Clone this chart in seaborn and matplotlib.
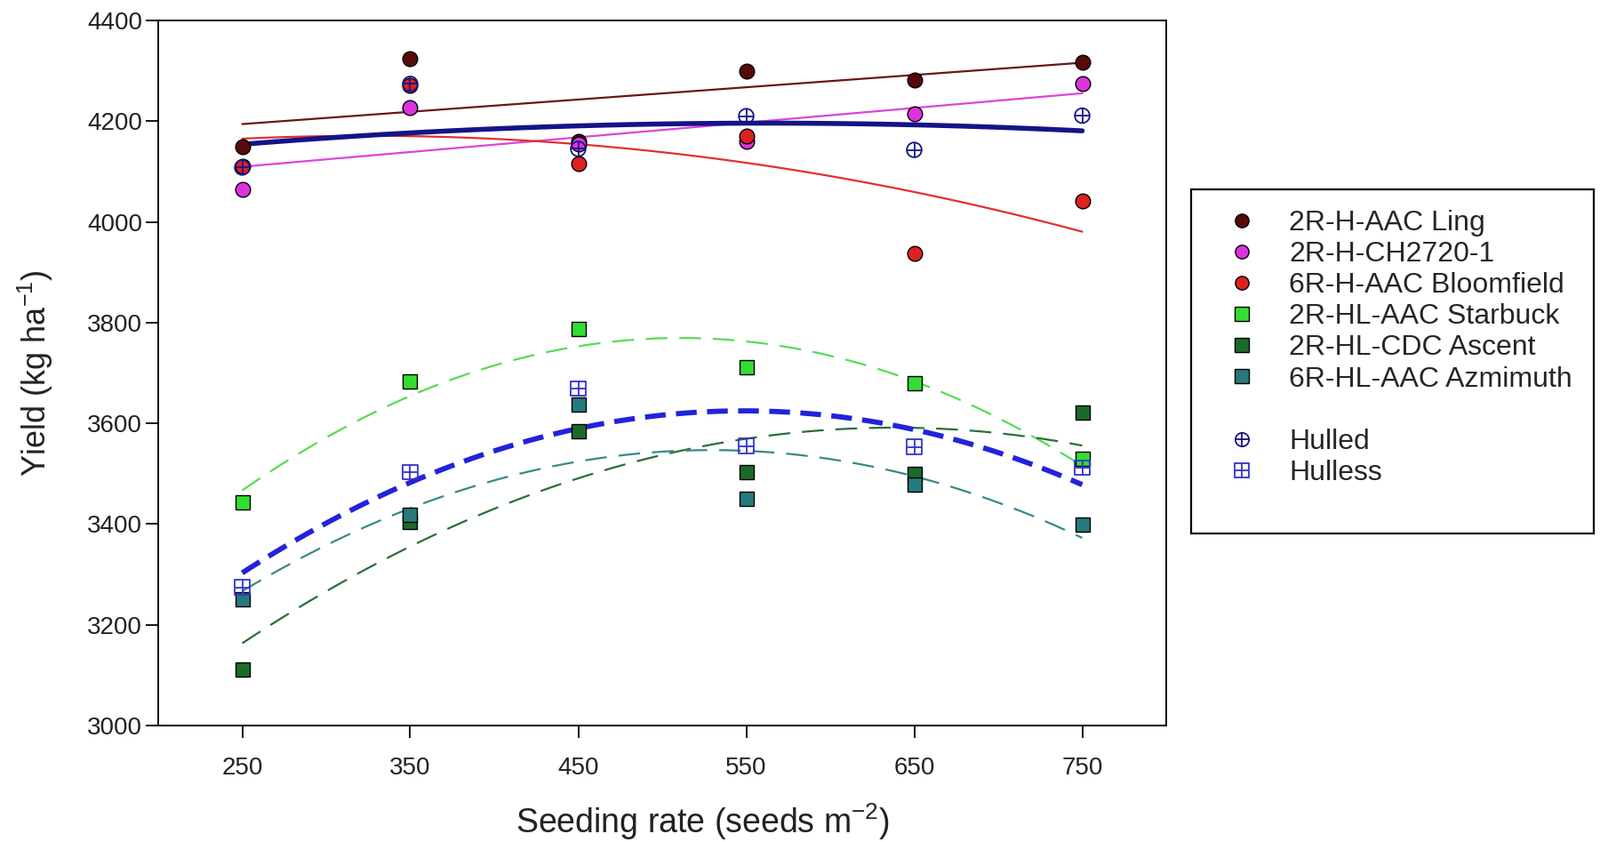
import matplotlib
matplotlib.use("Agg")
import matplotlib.pyplot as plt
import seaborn as sns
from matplotlib.lines import Line2D
from matplotlib.patches import Rectangle
from matplotlib.legend_handler import HandlerTuple

sns.set_style("ticks")
plt.rcParams['font.family'] = ['Liberation Sans', 'DejaVu Sans']
plt.rcParams['mathtext.fontset'] = 'custom'
plt.rcParams['mathtext.rm'] = 'Liberation Sans'
plt.rcParams['mathtext.it'] = 'Liberation Sans'

# seeding rates (seeds m-2)
rates = [250, 350, 450, 550, 650, 750]

# yields (kg/ha)
ling = [4149, 4324, 4160, 4299, 4282, 4317]
ch2720 = [4064, 4227, 4155, 4160, 4214, 4275]
bloomfield = [4111, 4271, 4116, 4170, 3937, 4042]
starbuck = [3444, 3684, 3787, 3712, 3679, 3530]
ascent = [3112, 3405, 3585, 3503, 3500, 3621]
azmimuth = [3250, 3418, 3638, 3451, 3479, 3399]
hulled = [4108, 4274, 4145, 4210, 4143, 4211]
hulless = [3274, 3503, 3669, 3555, 3553, 3512]

names = ["2R-H-AAC Ling", "2R-H-CH2720-1", "6R-H-AAC Bloomfield",
         "2R-HL-AAC Starbuck", "2R-HL-CDC Ascent", "6R-HL-AAC Azmimuth"]
series = [ling, ch2720, bloomfield, starbuck, ascent, azmimuth]
fills = ["#560a0a", "#dd33dd", "#dd2020", "#33dd33", "#1c6a2a", "#26797c"]
lines = ["#6a1616", "#dd44dd", "#e03030", "#55dd55", "#2a6e38", "#3a8888"]
markers = ["o", "o", "o", "s", "s", "s"]
orders = [1, 1, 2, 2, 2, 2]
dashed = [False, False, False, True, True, True]

navy = "#141488"
blue = "#2222dd"

fig = plt.figure(figsize=(18, 9.47), dpi=100)
ax = fig.add_axes([178 / 1800, 1 - 816 / 947, (1312 - 178) / 1800, (816 - 23) / 947])

ms = 12
for vals, fc, lc, mk, od, ds in zip(series, fills, lines, markers, orders, dashed):
    lkw = dict(lw=1.6, zorder=2)
    if ds:
        lkw["dashes"] = (11, 6)
    sns.regplot(x=rates, y=vals, order=od, ci=None, scatter=False, color=lc,
                line_kws=lkw, ax=ax)
    sns.scatterplot(x=rates, y=vals, marker=mk, s=ms ** 2, color=fc,
                    edgecolor="black", linewidth=1.0, zorder=3, ax=ax)

# group means
sns.regplot(x=rates, y=hulled, order=2, ci=None, scatter=False, color=navy,
            line_kws=dict(lw=4.0, zorder=2), ax=ax)
sns.regplot(x=rates, y=hulless, order=2, ci=None, scatter=False, color=blue,
            line_kws=dict(lw=4.2, dashes=(4, 2), zorder=2), ax=ax)
for vals, mk, c in [(hulled, "o", navy), (hulless, "s", "#3333cc")]:
    ax.scatter(rates, vals, marker=mk, s=ms ** 2, facecolors="none",
               edgecolors=c, linewidths=1.3, zorder=4)
    ax.scatter(rates, vals, marker="+", s=ms ** 2, color=c, linewidths=1.3, zorder=4)

ax.set_xlim(200, 800)
ax.set_ylim(3000, 4400)
ax.set_xticks(rates)
ax.set_yticks(range(3000, 4401, 200))
for s in ax.spines.values():
    s.set_color("black")
    s.set_linewidth(1.4)
ax.tick_params(axis="both", direction="out", length=10, width=1.3, colors="black",
               labelsize=20, labelcolor="#222222")
ax.tick_params(axis="x", pad=15)
ax.tick_params(axis="y", pad=3)
ax.set_xlabel("Seeding rate (seeds m$^{-2}$)", fontsize=27, labelpad=18, color="#222222")
ax.xaxis.label.set_x(0.54)
ax.set_ylabel("Yield (kg ha$^{-1}$)", fontsize=26, labelpad=26, color="#222222")

# legend
handles = []
for fc, mk in zip(fills, markers):
    handles.append(Line2D([], [], ls="none", marker=mk, markersize=ms - 1,
                          markerfacecolor=fc, markeredgecolor="black", markeredgewidth=1.0))
blank = Line2D([], [], ls="none", marker="none")
h_hulled = (Line2D([], [], ls="none", marker="o", markersize=ms - 1, markerfacecolor="none",
                   markeredgecolor=navy, markeredgewidth=1.3),
            Line2D([], [], ls="none", marker="+", markersize=ms - 1, color=navy,
                   markeredgewidth=1.3))
h_hulless = (Line2D([], [], ls="none", marker="s", markersize=ms - 1, markerfacecolor="none",
                    markeredgecolor="#3333cc", markeredgewidth=1.3),
             Line2D([], [], ls="none", marker="+", markersize=ms - 1, color="#3333cc",
                    markeredgewidth=1.3))
handles += [blank, h_hulled, h_hulless]
labels = names + [" ", "Hulled", "Hulless"]

fig.legend(handles, labels, loc="upper left", bbox_to_anchor=(1381 / 1800, 1 - 236 / 947),
           frameon=False, fontsize=23, handlelength=1.0, handletextpad=1.16,
           labelspacing=0.16, borderpad=0, borderaxespad=0,
           handler_map={tuple: HandlerTuple(ndivide=1, pad=0)})
fig.patches.append(Rectangle((1340 / 1800, 1 - 600 / 947), 453 / 1800, 387 / 947,
                             transform=fig.transFigure, fill=False, edgecolor="black",
                             linewidth=1.6))

fig.savefig("out.png", dpi=100)
